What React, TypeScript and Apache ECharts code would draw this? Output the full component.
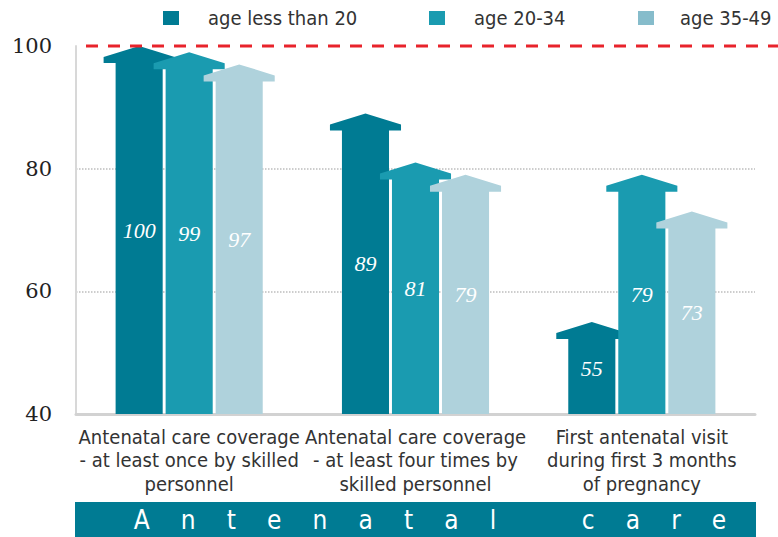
import React, { useEffect, useRef } from "react";
import * as echarts from "echarts";

const categories = [
  "Antenatal care coverage\n- at least once by skilled\npersonnel",
  "Antenatal care coverage\n- at least four times by\nskilled personnel",
  "First antenatal visit\nduring first 3 months\nof pregnancy",
];
const seriesNames = ["age less than 20", "age 20-34", "age 35-49"];
const ageUnder20 = [100, 89, 55];
const age20to34 = [99, 81, 79];
const age35to49 = [97, 79, 73];
const yMin = 40;
const yMax = 100;
const yInterval = 20;
const targetValue = 100;
const bannerTitle = "Antenatal care";

const barColors = ["#007b93", "#1a9bb0", "#afd2dc"];
const legendColors = ["#007b93", "#1a9bb0", "#86bccb"];
const legendLefts = [163, 429, 638];
const sansFont = "'DejaVu Sans Condensed', 'Liberation Sans Narrow', sans-serif";

function spacedTitle(t: string) {
  const S = "\u2003\u2004";
  return t
    .split(" ")
    .map((w) => w.split("").join(S))
    .join(S + "\u2003" + S);
}

export default function App() {
  const ref = useRef<HTMLDivElement>(null);
  useEffect(() => {
    if (!ref.current) return;
    const chart = echarts.init(ref.current, undefined, { renderer: "svg" });
    const allSeries = [ageUnder20, age20to34, age35to49];

    const makeRender = (s: number) => (params: any, api: any) => {
      const ci = api.value(0);
      const v = api.value(1);
      const top = api.coord([ci, v]);
      const base = api.coord([ci, yMin]);
      const mid = api.coord([ci, (v + yMin) / 2]);
      const catW = api.size([1, 0])[0];
      const cx = top[0] + (s - 1) * catW * 0.221;
      const hw = (catW * 0.208) / 2;
      const ov = catW * 0.053;
      const yv = top[1];
      const sh = yv + 17;
      const eg = yv + 11;
      const points = [
        [cx - hw, base[1]],
        [cx - hw, sh],
        [cx - hw - ov, sh],
        [cx - hw - ov, eg],
        [cx, yv],
        [cx + hw + ov, eg],
        [cx + hw + ov, sh],
        [cx + hw, sh],
        [cx + hw, base[1]],
      ];
      return {
        type: "group",
        children: [
          { type: "polygon", shape: { points }, style: { fill: barColors[s] } },
          {
            type: "text",
            x: cx,
            y: mid[1],
            style: {
              text: String(v),
              fill: "#ffffff",
              fontSize: 22,
              fontStyle: "italic",
              fontFamily: "'Liberation Serif', serif",
              align: "center",
              verticalAlign: "middle",
            },
          },
        ],
      };
    };

    chart.setOption({
      animation: false,
      grid: { left: 76, right: 23, top: 46, bottom: 123, containLabel: false },
      legend: seriesNames.map((n, i) => ({
        data: [{ name: n, itemStyle: { color: legendColors[i] } }],
        left: legendLefts[i],
        top: 8,
        padding: 0,
        icon: "rect",
        itemWidth: 16,
        itemHeight: 14,
        selectedMode: false,
        textStyle: {
          fontFamily: sansFont,
          fontSize: 20,
          color: "#333333",
          padding: [0, 0, 0, i === 2 ? 21 : 24],
        },
      })),
      xAxis: {
        type: "category",
        data: categories,
        axisTick: { show: false },
        axisLine: { lineStyle: { color: "#d2d2d2", width: 3 } },
        axisLabel: {
          interval: 0,
          margin: 11,
          fontFamily: sansFont,
          fontSize: 20,
          lineHeight: 23.5,
          color: "#333333",
        },
      },
      yAxis: {
        type: "value",
        min: yMin,
        max: yMax,
        interval: yInterval,
        axisTick: { show: false },
        axisLine: { show: true, lineStyle: { color: "#d8d8d8", width: 2 } },
        axisLabel: {
          margin: 24,
          fontFamily: "'DejaVu Serif', serif",
          fontSize: 21,
          color: "#222222",
        },
        splitLine: {
          show: true,
          lineStyle: {
            type: "dotted",
            width: 1.5,
            color: ["rgba(0,0,0,0)", "#bdbdbd", "#bdbdbd", "rgba(0,0,0,0)"],
          },
        },
      },
      series: allSeries.map((vals, s) => ({
        type: "custom",
        name: seriesNames[s],
        itemStyle: { color: barColors[s] },
        encode: { x: 0, y: 1 },
        data: vals.map((v, i) => [i, v]),
        renderItem: makeRender(s),
        z: 2 + s,
      })),
    });

    const yTarget = chart.convertToPixel({ yAxisIndex: 0 }, targetValue) as number;
    chart.setOption({
      graphic: [
        {
          type: "line",
          shape: { x1: 86, y1: yTarget, x2: 778, y2: yTarget },
          style: { stroke: "#e8232b", lineWidth: 3, lineDash: [12, 10] },
          z: 10,
        },
        {
          type: "rect",
          shape: { x: 75, y: 502, width: 681, height: 35 },
          style: { fill: "#007b93" },
          z: 1,
        },
        {
          type: "text",
          x: 430,
          y: 520,
          style: {
            text: spacedTitle(bannerTitle),
            fill: "#ffffff",
            fontFamily: sansFont,
            fontSize: 26,
            align: "center",
            verticalAlign: "middle",
          },
          z: 2,
        },
      ],
    });

    return () => chart.dispose();
  }, []);
  return (
    <div
      ref={ref}
      style={{ position: "absolute", left: 0, top: 0, width: 778, height: 537 }}
    />
  );
}
